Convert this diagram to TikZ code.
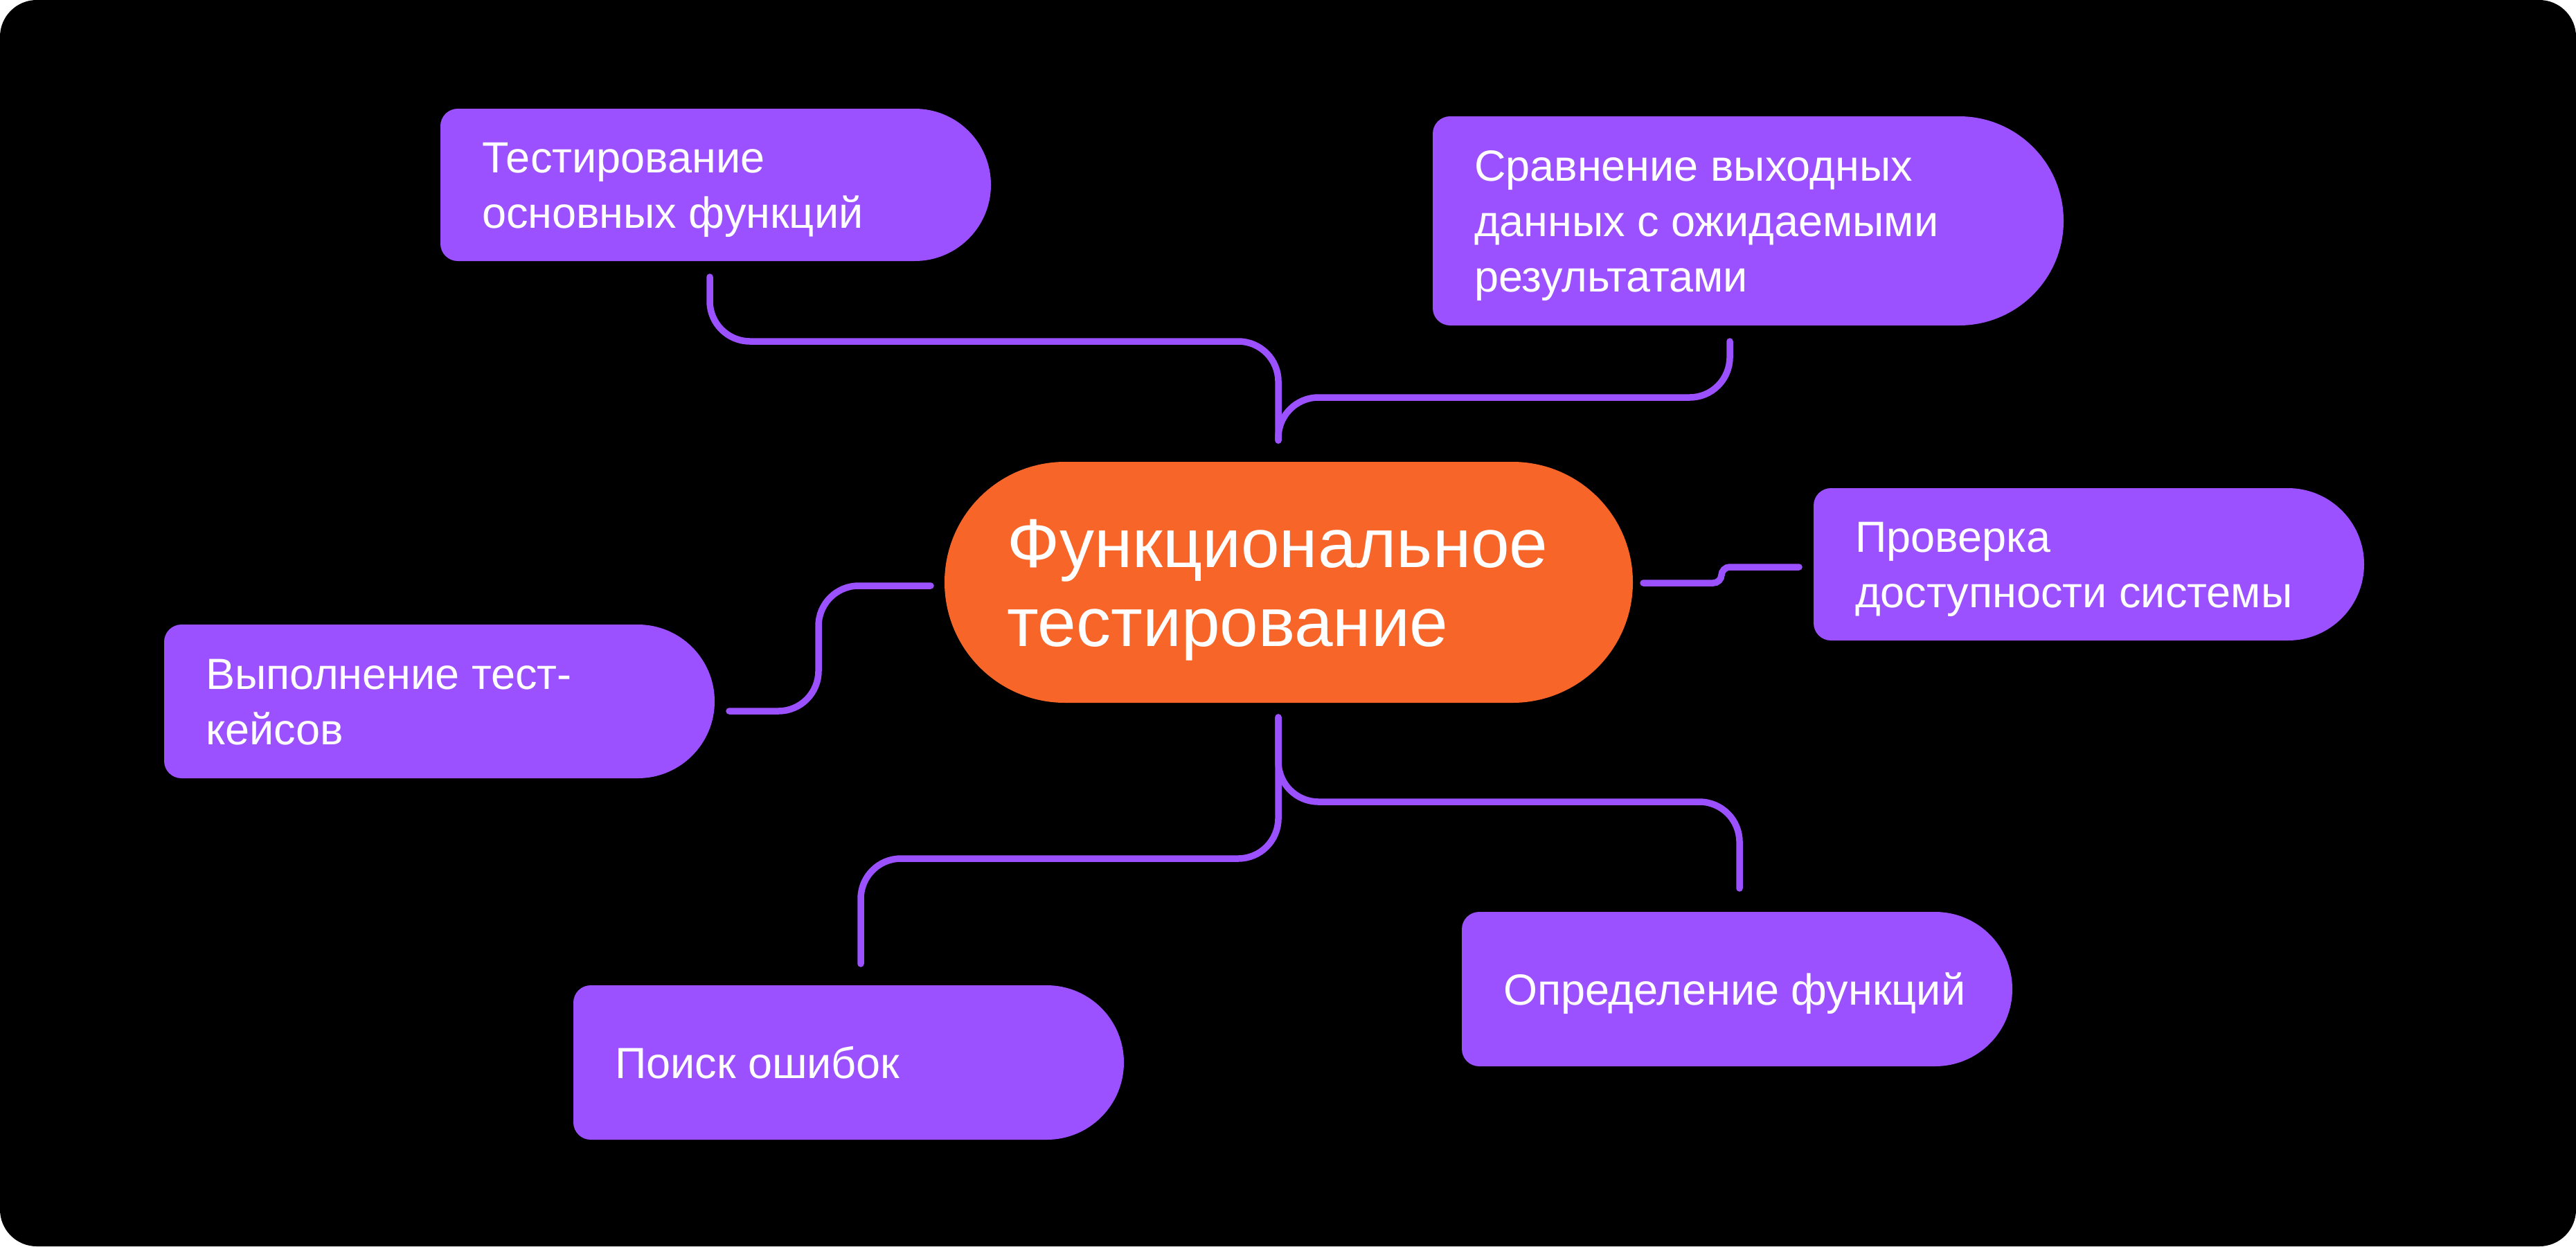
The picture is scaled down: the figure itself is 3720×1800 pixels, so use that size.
\documentclass[tikz,border=0pt]{standalone}
\usepackage{fontspec}
\setmainfont{Liberation Sans}
\usetikzlibrary{shapes.misc}
\definecolor{bp}{HTML}{9B51FF}
\definecolor{og}{HTML}{F76528}
\newcommand\capbox[7]{% #1 name, #2 x1, #3 ytop, #4 x2, #5 ybottom, #6 text height, #7 text
  \pgfmathsetmacro\rr{(#5-#3)/2}
  \fill[bp] ({#2+25},-#3) -- ({#4-\rr},-#3) arc[start angle=90,end angle=-90,radius=\rr]
     -- ({#2+25},-#5) arc[start angle=270,end angle=180,radius=25]
     -- (#2,{-#3-25}) arc[start angle=180,end angle=90,radius=25] -- cycle;
  \node[inner sep=0pt, minimum width={#4-#2}, minimum height={#5-#3}] (#1) at ({(#2+#4)/2},{-(#3+#5)/2}) {};
  \node[btext, text height=#6, anchor=west] (#1t) at ([xshift=60pt]#1.west) {#7};
}
\begin{document}
\begin{tikzpicture}[x=1pt,y=1pt,
  btext/.style={text=white, font=\fontsize{63}{80}\selectfont, align=left, inner sep=0pt, text depth=0pt},
  ctext/.style={text=white, font=\fontsize{100}{114}\selectfont, align=left, inner sep=0pt, text depth=0pt, text height=185pt},
  link/.style={draw=bp, line width=9.5pt, line cap=round, rounded corners=58pt}]
\fill[white] (0,0) rectangle (3720,-1800);
\fill[black, rounded corners=53pt] (0,0) rectangle (3720,-1800);
\useasboundingbox (0,0) rectangle (3720,-1800);

% central node
\node[rounded rectangle, fill=og, inner sep=0pt, minimum width=994pt, minimum height=348pt] (c) at (1861,-841) {};
\node[ctext, anchor=west] (ct) at ([xshift=90pt]c.west) {Функциональное\\тестирование};

% branch boxes
\capbox{b1}{636}{157}{1431}{377}{125pt}{Тестирование\\основных функций}
\capbox{b2}{2069}{168}{2980}{470}{205pt}{Сравнение выходных\\данных с ожидаемыми\\результатами}
\capbox{b3}{2619}{705}{3414}{925}{125pt}{Проверка\\доступности системы}
\capbox{b4}{237}{902}{1032}{1124}{125pt}{Выполнение тест-\\кейсов}
\capbox{b5}{828}{1423}{1623}{1646}{45pt}{Поиск ошибок}
\capbox{b6}{2111}{1317}{2906}{1540}{45pt}{Определение функций}

% connector end points
\coordinate (p1) at (1025,-400);
\coordinate (p2) at (2498,-493);
\coordinate (ptop) at (1846,-636);
\coordinate (pr1) at (2373,-842);
\coordinate (pr2) at (2598,-819);
\coordinate (pl1) at (1344,-846);
\coordinate (pl2) at (1053,-1027);
\coordinate (pbot) at (1846,-1036);
\coordinate (pb5) at (1243,-1392);
\coordinate (pb6) at (2512,-1283);

% connectors
\draw[link] (p1) -- (p1 |- 0,-493) -- (ptop |- 0,-493) -- (ptop);
\draw[link] (p2) -- (p2 |- 0,-574) -- (ptop |- 0,-574) -- (ptop);
\draw[link, rounded corners=12pt] (pr1) -- (2486,-842) -- (2486,-819) -- (pr2);
\draw[link] (pl1) -- (1182,-846) -- (1182,-1027) -- (pl2);
\draw[link] (pbot) -- (pbot |- 0,-1240) -- (pb5 |- 0,-1240) -- (pb5);
\draw[link] (pbot) -- (pbot |- 0,-1158) -- (pb6 |- 0,-1158) -- (pb6);
\end{tikzpicture}
\end{document}
